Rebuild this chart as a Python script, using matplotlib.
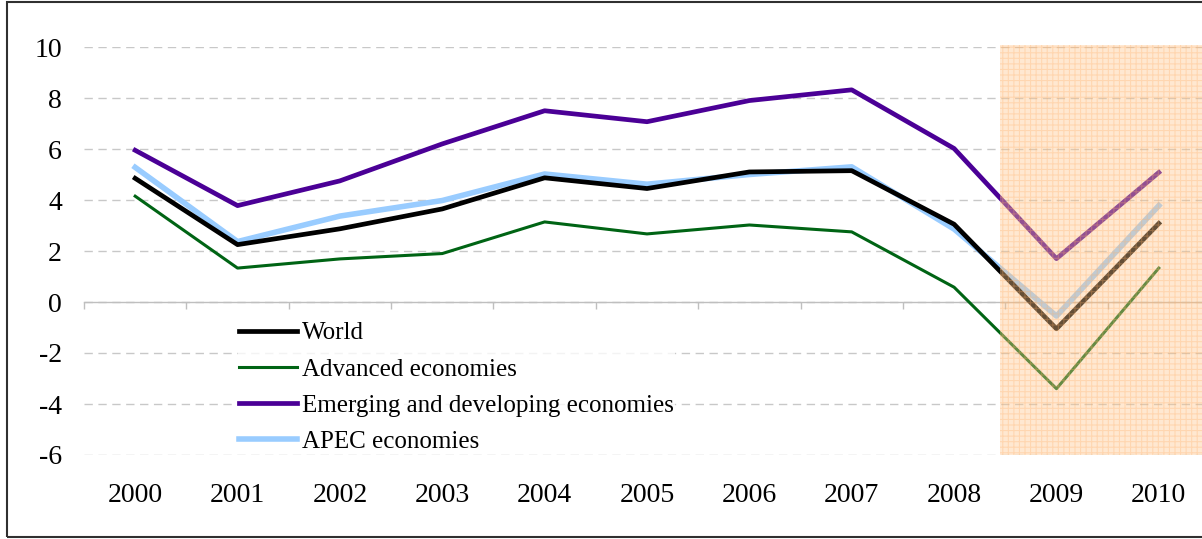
import matplotlib
matplotlib.use("Agg")
import matplotlib.pyplot as plt
from matplotlib.patches import Rectangle
import matplotlib.transforms as mtransforms
import numpy as np

plt.rcParams['font.family'] = ['Liberation Serif', 'DejaVu Serif']
plt.rcParams['axes.unicode_minus'] = False
plt.rcParams['hatch.linewidth'] = 0.8

# Real GDP growth, % per year
years = ['2000', '2001', '2002', '2003', '2004', '2005',
         '2006', '2007', '2008', '2009', '2010']
world = [4.85, 2.25, 2.87, 3.65, 4.87, 4.45, 5.10, 5.15, 3.05, -1.05, 3.08]
advanced = [4.15, 1.33, 1.69, 1.90, 3.14, 2.67, 3.02, 2.75, 0.58, -3.40, 1.33]
emerging = [5.95, 3.78, 4.75, 6.20, 7.50, 7.07, 7.90, 8.32, 6.02, 1.70, 5.08]
apec = [5.28, 2.37, 3.37, 3.98, 5.02, 4.62, 5.00, 5.30, 2.86, -0.55, 3.78]

series_names = ['World', 'Advanced economies',
                'Emerging and developing economies', 'APEC economies']
y_ticks = [-6, -4, -2, 0, 2, 4, 6, 8, 10]

W, H = 1202, 539
fig = plt.figure(figsize=(W / 100, H / 100), dpi=100)
ax = fig.add_axes([84 / W, 84 / H, 1126 / W, 408 / H])

x = np.arange(len(years))
ax.plot(x, world, color='black', lw=3.4, label=series_names[0], zorder=3)
ax.plot(x, advanced, color='#006414', lw=2.2, label=series_names[1], zorder=3)
ax.plot(x, emerging, color='#4B0096', lw=3.4, label=series_names[2], zorder=3)
ax.plot(x, apec, color='#99CCFF', lw=4.0, label=series_names[3], zorder=2.9)

ax.set_xlim(-0.5, len(years) - 0.5)
ax.set_ylim(-6, 10)

# horizontal dashed gridlines
ax.set_yticks(y_ticks)
ax.set_yticklabels([str(v) for v in y_ticks])
ax.yaxis.grid(True, linestyle=(0, (6, 4)), color='#C8C8C8', lw=1.0, zorder=0)
ax.set_axisbelow(True)
ax.tick_params(axis='y', length=0, pad=16, labelsize=20)

# category axis running along zero, ticks between categories
for s in ['left', 'right', 'top']:
    ax.spines[s].set_visible(False)
ax.spines['bottom'].set_position(('data', 0))
ax.spines['bottom'].set_color('#BFBFBF')
ax.spines['bottom'].set_linewidth(1.0)
ax.set_xticks(np.arange(-0.5, len(years), 1.0))
ax.set_xticklabels([])
ax.tick_params(axis='x', length=5, color='#BFBFBF', width=1.0, direction='out')

trans = mtransforms.blended_transform_factory(ax.transData, ax.transAxes)
for i, yr in enumerate(years):
    ax.text(i, -0.1, yr, transform=trans, ha='center', va='center', fontsize=20)

# forecast period shading
shade = Rectangle((8.45, -6), 2.3, 16.08, facecolor=(1.0, 0.78, 0.55, 0.40),
                  edgecolor=(1.0, 0.68, 0.40, 0.30), lw=0, hatch='+++',
                  zorder=5, clip_on=False)
ax.add_patch(shade)

leg = ax.legend(loc='center left', bbox_to_anchor=(238 / W, (H - 387.5) / H),
                bbox_transform=fig.transFigure, frameon=True, fontsize=18,
                handlelength=2.3, handletextpad=0.2, labelspacing=0.55,
                borderaxespad=0, borderpad=0.05, fancybox=False)
leg.get_frame().set_facecolor('white')
leg.get_frame().set_edgecolor('none')
leg.set_zorder(6)

# outer frame
fig.add_artist(Rectangle((7 / W, 2 / H), 1.0, 1 - 4 / H, transform=fig.transFigure,
                         fill=False, edgecolor='#303030', lw=1.5))

fig.savefig('out.png', dpi=100)
